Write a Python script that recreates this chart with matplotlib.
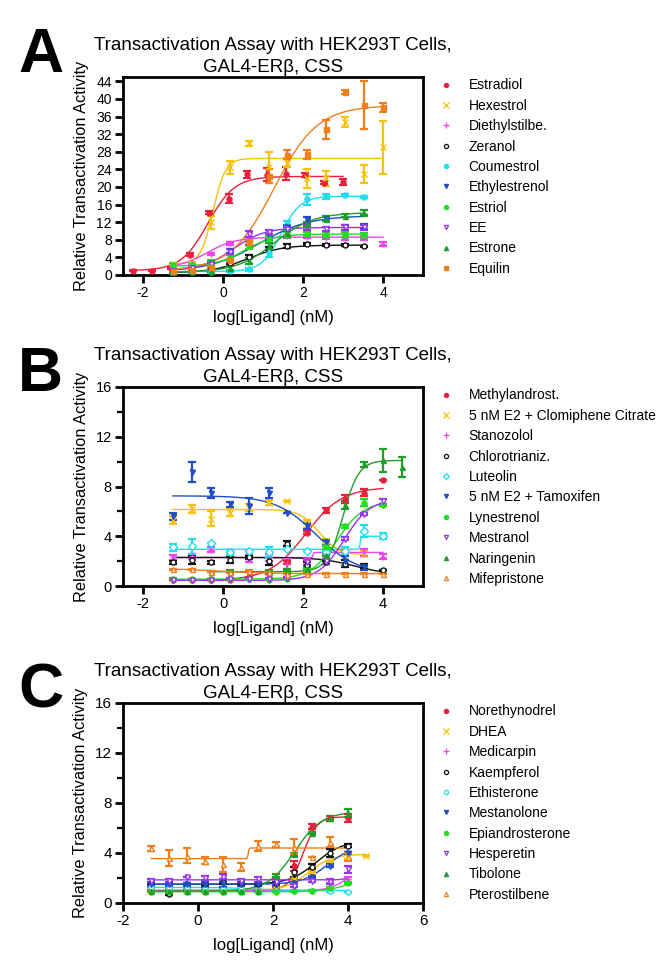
import numpy as np
import matplotlib
matplotlib.use("Agg")
import matplotlib.pyplot as plt
from matplotlib.lines import Line2D
from matplotlib.ticker import MultipleLocator

plt.rcParams['font.family'] = ['Liberation Sans', 'DejaVu Sans']
plt.rcParams['axes.unicode_minus'] = False

# log10 of the doses (nM), 3-fold dilutions from 10 uM
log_dose = [-1.25, -0.77, -0.29, 0.18, 0.66, 1.14, 1.61, 2.09, 2.57, 3.05, 3.52, 4.0]
log_dose_e2 = [-2.25, -1.77, -1.29, -0.82, -0.34, 0.14, 0.61, 1.09, 1.57, 2.05, 2.52, 3.0]
log_dose_hi = [-0.29, 0.18, 0.66, 1.14, 1.61, 2.09, 2.57, 3.05, 3.52, 4.0, 4.48]
log_dose_c2 = [-1.25, -0.77, -0.29, 0.18, 0.66, 1.14, 1.61, 2.09, 2.57, 3.05, 3.52, 4.0, 4.48]

colors = ['#e8213c', '#f7c20a', '#ee44ee', '#111111', '#22ddee',
          '#1f4ec8', '#22dd22', '#9933ee', '#1f9e2a', '#f07f1a']

title_1 = 'Transactivation Assay with HEK293T Cells,'
title_2 = 'GAL4-ER\u03b2, CSS'

# ---------------- panel A ----------------
a_labels = ['Estradiol', 'Hexestrol', 'Diethylstilbe.', 'Zeranol', 'Coumestrol',
            'Ethylestrenol', 'Estriol', 'EE', 'Estrone', 'Equilin']
a_x = [log_dose_e2, log_dose, log_dose, log_dose[:11], log_dose[:11],
       log_dose[:11], log_dose[:11], log_dose[:11], log_dose[:11], log_dose]
a_y = [
    [1.0, 1.0, 1.6, 4.6, 14.2, 17.3, 22.9, 22.8, 23.0, 22.7, 21.0, 21.1],
    [2.5, 2.6, 12.0, 24.5, 29.9, 24.5, 25.5, 22.0, 22.0, 34.8, 22.9, 29.0],
    [1.5, 2.5, 4.8, 7.2, 8.3, 8.6, 8.8, 8.6, 8.5, 8.3, 8.4, 7.0],
    [0.5, 0.8, 1.5, 2.8, 4.2, 6.0, 6.6, 7.0, 6.8, 6.8, 6.5],
    [0.5, 0.6, 0.7, 0.9, 1.3, 5.0, 11.5, 17.2, 17.9, 18.2, 17.7],
    [1.0, 1.5, 2.8, 5.5, 7.3, 8.5, 10.8, 12.5, 12.8, 10.8, 11.0],
    [2.2, 2.2, 2.8, 4.0, 6.5, 8.2, 9.2, 9.3, 9.2, 9.2, 9.0],
    [1.0, 1.5, 2.5, 5.3, 9.3, 9.8, 10.5, 10.8, 10.5, 10.8, 10.8],
    [0.5, 0.8, 1.0, 1.5, 3.2, 6.5, 9.5, 11.5, 12.8, 13.5, 14.2],
    [1.0, 1.2, 1.8, 3.3, 7.5, 22.5, 27.3, 27.4, 33.1, 41.6, 38.6, 38.1],
]
a_err = [
    [0.2, 0.2, 0.2, 0.3, 0.4, 1.0, 0.8, 1.5, 1.5, 0.5, 0.3, 0.7],
    [0.3, 0.3, 1.5, 1.5, 0.5, 3.5, 1.0, 2.2, 1.7, 1.2, 2.0, 6.0],
    [0.3, 0.3, 0.3, 0.3, 0.4, 0.3, 0.3, 0.3, 0.4, 0.3, 0.4, 0.5],
    [0.2, 0.2, 0.2, 0.3, 0.3, 0.4, 0.4, 0.2, 0.2, 0.2, 0.2],
    [0.2, 0.2, 0.2, 0.3, 0.3, 1.0, 0.8, 1.3, 0.6, 0.3, 0.3],
    [0.3, 0.3, 0.4, 0.5, 0.5, 0.6, 0.6, 0.6, 0.5, 0.5, 0.6],
    [0.5, 0.5, 0.5, 0.6, 0.6, 0.6, 0.6, 0.5, 0.6, 0.5, 0.6],
    [0.3, 0.3, 0.4, 0.5, 0.6, 0.5, 0.5, 0.5, 0.5, 0.6, 0.6],
    [0.2, 0.2, 0.3, 0.6, 0.6, 0.8, 0.8, 0.6, 0.5, 0.4, 0.5],
    [0.2, 0.2, 0.3, 0.3, 0.5, 1.5, 1.0, 1.0, 2.1, 0.5, 5.5, 1.0],
]
# four-parameter logistic fits: bottom, top, logEC50, hill slope
a_bottom = [1.0, 2.5, 1.5, 0.5, 0.8, 0.8, 2.0, 1.0, 0.6, 1.0]
a_top = [22.4, 26.5, 8.6, 6.8, 17.9, 13.5, 9.3, 10.8, 14.2, 38.5]
a_ec50 = [-0.38, -0.25, -0.4, 0.6, 1.45, 0.9, 0.55, 0.25, 1.3, 1.28]
a_hill = [1.3, 2.8, 1.2, 1.0, 1.8, 0.7, 1.2, 1.1, 0.9, 0.8]
a_curve_end = [3.0, 4.0, 4.0, 3.52, 3.52, 3.52, 3.52, 3.52, 3.52, 4.0]
a_markers = ['o', 'x', '+', 'o', 'o', 'v', 'o', 'v', '^', 's']
a_open = [False, False, False, True, False, False, False, True, False, False]

# ---------------- panel B ----------------
b_labels = ['Methylandrost.', '5 nM E2 + Clomiphene Citrate', 'Stanozolol', 'Chlorotrianiz.',
            'Luteolin', '5 nM E2 + Tamoxifen', 'Lynestrenol', 'Mestranol', 'Naringenin',
            'Mifepristone']
b_x = [log_dose, log_dose[:11], log_dose, log_dose, log_dose, log_dose[:11],
       log_dose, log_dose, log_dose_hi, log_dose]
b_y = [
    [0.5, 0.5, 0.5, 0.5, 0.65, 1.0, 1.9, 4.3, 6.1, 7.0, 7.5, 8.5],
    [5.3, 6.2, 5.4, 5.9, 6.3, 6.7, 6.85, 5.0, 3.6, 2.8, 2.6],
    [2.3, 2.4, 2.9, 2.7, 2.2, 2.3, 1.8, 2.05, 2.6, 2.7, 2.7, 2.35],
    [1.9, 2.1, 1.9, 2.1, 2.3, 2.0, 3.4, 1.65, 1.9, 1.8, 1.6, 1.3],
    [3.1, 3.2, 3.45, 2.7, 2.8, 2.7, 3.0, 2.85, 2.7, 2.8, 4.4, 4.0],
    [5.6, 9.2, 7.5, 6.57, 6.4, 7.5, 5.9, 4.8, 3.5, 2.0, 1.5],
    [0.6, 0.55, 0.55, 0.55, 0.55, 0.5, 0.6, 1.3, 3.1, 4.8, 6.7, 6.5],
    [0.5, 0.5, 0.5, 0.6, 0.6, 0.6, 0.65, 1.9, 2.0, 3.8, 5.8, 6.8],
    [1.15, 1.2, 1.15, 1.2, 1.3, 1.4, 2.5, 6.5, 9.8, 10.1, 9.6],
    [1.35, 1.35, 1.15, 1.1, 1.2, 1.1, 1.0, 1.0, 1.0, 1.0, 1.0, 1.0],
]
b_err = [
    [0.05, 0.05, 0.05, 0.05, 0.05, 0.05, 0.1, 0.1, 0.2, 0.3, 0.3, 0.0],
    [0.3, 0.3, 0.6, 0.3, 0.3, 0.2, 0.0, 0.3, 0.2, 0.2, 0.2],
    [0.2, 0.2, 0.2, 0.2, 0.3, 0.3, 0.4, 0.1, 0.2, 0.2, 0.3, 0.2],
    [0.15, 0.3, 0.15, 0.25, 0.1, 0.3, 0.2, 0.3, 0.1, 0.3, 0.2, 0.0],
    [0.25, 0.6, 0.0, 0.2, 0.0, 0.4, 0.0, 0.0, 0.1, 0.3, 0.5, 0.25],
    [0.3, 0.8, 0.4, 0.2, 0.65, 0.4, 0.0, 0.25, 0.2, 0.4, 0.2],
    [0.05, 0.05, 0.05, 0.05, 0.05, 0.05, 0.05, 0.1, 0.1, 0.1, 0.3, 0.1],
    [0.05, 0.05, 0.05, 0.05, 0.05, 0.05, 0.05, 0.2, 0.2, 0.1, 0.1, 0.2],
    [0.05, 0.05, 0.05, 0.05, 0.05, 0.1, 0.1, 0.3, 0.2, 0.9, 0.8],
    [0.05, 0.05, 0.05, 0.05, 0.05, 0.05, 0.05, 0.05, 0.05, 0.05, 0.05, 0.05],
]
b_bottom = [0.45, 2.5, 2.28, 0.9, 2.95, 1.0, 0.55, 0.45, 1.15, 1.0]
b_top = [7.95, 6.15, 2.7, 2.3, 4.0, 7.25, 6.8, 7.0, 10.1, 1.4]
b_ec50 = [2.07, 2.4, 2.25, 3.3, 3.43, 2.33, 2.85, 3.03, 3.0, -0.1]
b_hill = [0.95, -1.8, 40, -1.0, 40, -0.86, 1.3, 1.35, 2.2, -0.8]
b_curve_end = [4.0, 3.52, 4.0, 4.0, 4.0, 3.52, 4.0, 4.0, 4.48, 4.0]
b_markers = ['o', 'x', '+', 'o', 'D', 'v', 'o', 'v', '^', '^']
b_open = [False, False, False, True, True, False, False, True, False, True]

# ---------------- panel C ----------------
c_labels = ['Norethynodrel', 'DHEA', 'Medicarpin', 'Kaempferol', 'Ethisterone',
            'Mestanolone', 'Epiandrosterone', 'Hesperetin', 'Tibolone', 'Pterostilbene']
c_x = [log_dose, log_dose_c2, log_dose, log_dose, log_dose,
       log_dose, log_dose, log_dose, log_dose, log_dose]
c_y = [
    [1.0, 0.9, 1.0, 1.0, 1.0, 1.0, 1.0, 1.1, 3.0, 6.1, 6.8, 6.8],
    [1.0, 1.0, 1.0, 1.0, 1.0, 1.0, 1.0, 1.1, 1.9, 2.5, 3.3, 3.7, 3.8],
    [1.0, 1.0, 1.0, 1.0, 1.0, 1.0, 1.0, 1.0, 1.0, 1.0, 1.4, 1.9],
    [1.6, 0.75, 1.3, 1.5, 1.7, 1.6, 1.5, 1.6, 2.5, 2.9, 4.0, 4.6],
    [1.3, 1.2, 1.2, 1.1, 1.1, 1.1, 1.0, 1.0, 1.0, 1.0, 1.0, 0.9],
    [1.5, 1.5, 1.5, 1.5, 1.5, 1.5, 1.5, 1.5, 1.6, 2.1, 3.0, 4.0],
    [0.9, 0.9, 0.9, 0.9, 0.9, 0.9, 0.9, 0.9, 0.95, 1.0, 1.2, 1.6],
    [1.8, 1.8, 2.1, 2.0, 2.1, 1.8, 1.9, 1.7, 1.4, 1.8, 1.7, 2.7],
    [1.0, 1.0, 1.0, 1.0, 1.0, 1.0, 1.0, 2.2, 3.9, 5.6, 6.8, 7.2],
    [4.37, 3.6, 3.8, 3.4, 3.1, 2.9, 4.6, 4.7, 4.5, 3.7, 4.9, 3.7],
]
c_err = [
    [0.05, 0.1, 0.05, 0.05, 0.05, 0.05, 0.05, 0.1, 0.4, 0.2, 0.2, 0.3],
    [0.05, 0.05, 0.05, 0.05, 0.05, 0.05, 0.05, 0.05, 0.1, 0.1, 0.1, 0.2, 0.0],
    [0.05, 0.05, 0.05, 0.05, 0.05, 0.05, 0.05, 0.05, 0.05, 0.05, 0.2, 0.2],
    [0.1, 0.1, 0.1, 0.15, 0.2, 0.1, 0.1, 0.1, 0.4, 0.2, 0.3, 0.1],
    [0.05, 0.05, 0.05, 0.05, 0.05, 0.05, 0.05, 0.05, 0.05, 0.05, 0.1, 0.0],
    [0.1, 0.1, 0.1, 0.2, 0.2, 0.1, 0.1, 0.1, 0.1, 0.1, 0.1, 0.1],
    [0.05, 0.1, 0.05, 0.05, 0.05, 0.05, 0.05, 0.05, 0.05, 0.05, 0.1, 0.1],
    [0.1, 0.15, 0.0, 0.15, 0.2, 0.1, 0.2, 0.2, 0.15, 0.1, 0.2, 0.3],
    [0.05, 0.05, 0.05, 0.05, 0.05, 0.05, 0.05, 0.1, 0.1, 0.1, 0.15, 0.3],
    [0.2, 0.67, 0.6, 0.25, 0.6, 0.3, 0.4, 0.2, 0.6, 0.0, 0.4, 0.3],
]
c_bottom = [1.0, 1.0, 1.0, 1.5, 1.0, 1.5, 0.9, 1.85, 0.95, 3.55]
c_top = [6.9, 3.9, 2.6, 5.0, 1.25, 4.6, 2.5, 2.0, 7.3, 4.4]
c_ec50 = [2.8, 2.95, 3.9, 3.15, 1.5, 3.45, 4.2, 3.9, 2.58, 1.34]
c_hill = [2.3, 1.4, 2.0, 1.2, -1.0, 1.3, 1.2, 5.0, 1.2, 40]
c_curve_end = [4.0, 4.48, 4.0, 4.0, 4.0, 4.0, 4.0, 4.0, 4.0, 4.0]
c_markers = ['o', 'x', '+', 'o', 'o', 'v', 'o', 'v', '^', '^']
c_open = [False, False, False, True, True, False, False, True, False, True]


def logistic(x, bottom, top, ec50, hill):
    return bottom + (top - bottom) / (1 + 10 ** ((ec50 - x) * hill))


def draw_panel(ax, labels, xs, ys, errs, bottoms, tops, ec50s, hills, ends, markers, opens, ticksize):
    handles = []
    for i in range(len(labels)):
        c = colors[i]
        x = np.array(xs[i])
        xc = np.linspace(x[0], ends[i], 300)
        ax.plot(xc, logistic(xc, bottoms[i], tops[i], ec50s[i], hills[i]), color=c, lw=1.0, zorder=2)
        ax.errorbar(x, ys[i], yerr=errs[i], fmt='none', ecolor=c, elinewidth=1.6,
                    capsize=2.6, capthick=1.6, zorder=3)
        face = 'white' if opens[i] else c
        ms = 5 if markers[i] in ('x', '+') else 3.6
        ax.plot(x, ys[i], ls='none', marker=markers[i], ms=ms, mfc=face, mec=c, mew=1.0, zorder=4)
        handles.append(Line2D([], [], ls='none', marker=markers[i], ms=ms - 0.6, mfc=face, mec=c, mew=0.9))
    ax.legend(handles, labels, loc='upper left', bbox_to_anchor=(1.055, 1.0), frameon=False,
              fontsize=10, handlelength=0.8, handletextpad=1.2, labelspacing=0.46,
              borderaxespad=0.0, borderpad=0.1)
    for s in ax.spines.values():
        s.set_linewidth(2.0)
    ax.tick_params(which='major', direction='out', length=6, width=2, labelsize=ticksize, pad=2)
    ax.tick_params(which='minor', direction='out', length=4, width=1.6)
    # two title lines placed separately (baselines 4 px and 27 px above the frame)
    ax.annotate(title_2, xy=(0.5, 1.0), xycoords='axes fraction', xytext=(0, 3.5),
                textcoords='offset points', ha='center', va='baseline', fontsize=13.5)
    ax.annotate(title_1, xy=(0.5, 1.0), xycoords='axes fraction', xytext=(0, 19.5),
                textcoords='offset points', ha='center', va='baseline', fontsize=13.5)
    ax.set_xlabel('log[Ligand] (nM)', fontsize=12, labelpad=7)
    ax.set_ylabel('Relative Transactivation Activity', fontsize=11.8, labelpad=5)


fig = plt.figure(figsize=(6.69, 9.76), dpi=100)
W, H = 669.0, 976.0
ax_a = fig.add_axes([123 / W, 1 - 275 / H, 300 / W, 198 / H])
ax_b = fig.add_axes([123 / W, 1 - 586 / H, 300 / W, 199 / H])
ax_c = fig.add_axes([123 / W, 1 - 903 / H, 300 / W, 200 / H])

draw_panel(ax_a, a_labels, a_x, a_y, a_err, a_bottom, a_top, a_ec50, a_hill, a_curve_end,
           a_markers, a_open, 10)
ax_a.set_xlim(-2.5, 5)
ax_a.set_ylim(0, 45)
ax_a.set_xticks([-2, 0, 2, 4])
ax_a.set_yticks(np.arange(0, 45, 4))

draw_panel(ax_b, b_labels, b_x, b_y, b_err, b_bottom, b_top, b_ec50, b_hill, b_curve_end,
           b_markers, b_open, 10.5)
ax_b.set_xlim(-2.5, 5)
ax_b.set_ylim(0, 16)
ax_b.set_xticks([-2, 0, 2, 4])
ax_b.set_yticks([0, 4, 8, 12, 16])
ax_b.yaxis.set_minor_locator(MultipleLocator(2))

draw_panel(ax_c, c_labels, c_x, c_y, c_err, c_bottom, c_top, c_ec50, c_hill, c_curve_end,
           c_markers, c_open, 11)
ax_c.set_xlim(-2, 6)
ax_c.set_ylim(0, 16)
ax_c.set_xticks([-2, 0, 2, 4, 6])
ax_c.set_yticks([0, 4, 8, 12, 16])
ax_c.yaxis.set_minor_locator(MultipleLocator(2))

for letter, ytop in (('A', 26), ('B', 345), ('C', 662)):
    fig.text(18 / W, 1 - ytop / H, letter, fontsize=45, fontweight='bold', va='top', ha='left')

fig.savefig('out.png', dpi=100)
